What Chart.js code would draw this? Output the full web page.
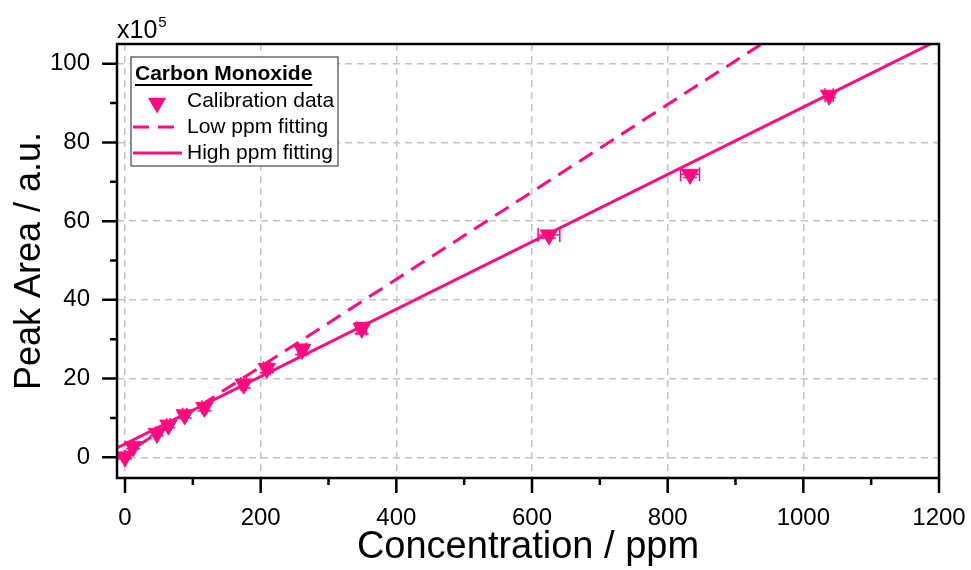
<!DOCTYPE html>
<html>
<head>
<meta charset="utf-8">
<script src="https://cdn.jsdelivr.net/npm/chart.js@4/dist/chart.umd.min.js"></script>
<style>
  html, body { margin: 0; padding: 0; background: #fff; }
  #wrap { width: 971px; height: 570px; position: relative; }
</style>
</head>
<body>
<div id="wrap"><canvas id="chart"></canvas></div>
<script>
// Calibration data (concentration in ppm, peak area in units of 1e5)
const conc = [0, 12, 47, 64, 88, 117, 175, 209, 261, 349, 625, 833, 1038];
const peakArea = [0.1, 2.7, 6.1, 8.2, 10.8, 12.7, 18.6, 22.6, 27.4, 32.8, 56.5, 71.9, 92.0];
const concErr = [1, 1.5, 2, 2.5, 3, 3.5, 4, 5, 6, 7, 16, 14, 6];
const areaErr = [0.4, 0.5, 0.6, 0.7, 0.8, 0.9, 1.0, 1.1, 1.3, 1.4, 0.8, 0.8, 0.6];

// Fit lines (end points)
const lowFitX = [-12, 960];
const lowFitY = [-0.5, 107.4];
const highFitX = [-12, 1200];
const highFitY = [2.4, 106.1];

// Axis ticks
const xTicks = [0, 200, 400, 600, 800, 1000, 1200];
const xMinorTicks = [100, 300, 500, 700, 900, 1100];
const yTicks = [0, 20, 40, 60, 80, 100];
const yMinorTicks = [10, 30, 50, 70, 90];

const PINK = '#ff0a80';
const FONT = "'Liberation Sans', Arial, sans-serif";

function toPoints(xs, ys) {
  return xs.map((x, i) => ({ x: x, y: ys[i] }));
}

function downTriangle(ctx, x, y, r) {
  ctx.beginPath();
  for (let k = 0; k < 3; k++) {
    const rad = Math.PI + k * 2 * Math.PI / 3;
    const px = x + Math.sin(rad) * r, py = y - Math.cos(rad) * r;
    if (k === 0) ctx.moveTo(px, py); else ctx.lineTo(px, py);
  }
  ctx.closePath();
  ctx.fill();
}

// Error bars, frame, ticks, legend and the x10^5 label
const decorPlugin = {
  id: 'decor',
  afterDatasetsDraw(chart) {
    const ctx = chart.ctx;
    const xs = chart.scales.x, ys = chart.scales.y;
    ctx.save();
    ctx.strokeStyle = PINK;
    ctx.lineWidth = 1.5;
    const cap = 7;
    conc.forEach((c, i) => {
      const px = xs.getPixelForValue(c), py = ys.getPixelForValue(peakArea[i]);
      const x0 = xs.getPixelForValue(c - concErr[i]), x1 = xs.getPixelForValue(c + concErr[i]);
      const y0 = ys.getPixelForValue(peakArea[i] - areaErr[i]), y1 = ys.getPixelForValue(peakArea[i] + areaErr[i]);
      ctx.beginPath();
      ctx.moveTo(x0, py); ctx.lineTo(x1, py);
      ctx.moveTo(x0, py - cap); ctx.lineTo(x0, py + cap);
      ctx.moveTo(x1, py - cap); ctx.lineTo(x1, py + cap);
      ctx.moveTo(px, y0); ctx.lineTo(px, y1);
      ctx.moveTo(px - cap, y0); ctx.lineTo(px + cap, y0);
      ctx.moveTo(px - cap, y1); ctx.lineTo(px + cap, y1);
      ctx.stroke();
    });
    ctx.restore();
  },
  afterDraw(chart) {
    const ctx = chart.ctx;
    const a = chart.chartArea;
    const xs = chart.scales.x, ys = chart.scales.y;
    ctx.save();

    // frame
    ctx.strokeStyle = '#000';
    ctx.lineWidth = 2.5;
    ctx.strokeRect(a.left, a.top, a.right - a.left, a.bottom - a.top);

    // outward ticks on bottom and left
    ctx.beginPath();
    xTicks.forEach(v => {
      const p = xs.getPixelForValue(v);
      ctx.moveTo(p, a.bottom); ctx.lineTo(p, a.bottom + 15);
    });
    xMinorTicks.forEach(v => {
      const p = xs.getPixelForValue(v);
      ctx.moveTo(p, a.bottom); ctx.lineTo(p, a.bottom + 7);
    });
    yTicks.forEach(v => {
      const p = ys.getPixelForValue(v);
      ctx.moveTo(a.left, p); ctx.lineTo(a.left - 15, p);
    });
    yMinorTicks.forEach(v => {
      const p = ys.getPixelForValue(v);
      ctx.moveTo(a.left, p); ctx.lineTo(a.left - 7, p);
    });
    ctx.stroke();

    // x10^5
    ctx.fillStyle = '#000';
    ctx.textBaseline = 'alphabetic';
    ctx.textAlign = 'left';
    ctx.font = '25px ' + FONT;
    ctx.fillText('x10', a.left, 38);
    const w = ctx.measureText('x10').width;
    ctx.font = '15px ' + FONT;
    ctx.fillText('5', a.left + w + 1, 27);

    // legend
    const lx = 131, ly = 57, lw = 207, lh = 109;
    ctx.fillStyle = '#fff';
    ctx.fillRect(lx, ly, lw, lh);
    ctx.strokeStyle = '#555';
    ctx.lineWidth = 1.3;
    ctx.strokeRect(lx, ly, lw, lh);

    ctx.fillStyle = '#000';
    ctx.font = 'bold 21px ' + FONT;
    const title = 'Carbon Monoxide';
    ctx.fillText(title, 135, 80);
    const tw = ctx.measureText(title).width;
    ctx.strokeStyle = '#000';
    ctx.lineWidth = 2;
    ctx.beginPath();
    ctx.moveTo(135, 85); ctx.lineTo(135 + tw, 85);
    ctx.stroke();

    const rows = [101, 127, 153];
    ctx.font = '21px ' + FONT;
    ctx.textBaseline = 'middle';
    chart.data.datasets.forEach((ds, i) => {
      const y = rows[i];
      if (ds.showLine) {
        ctx.strokeStyle = ds.borderColor;
        ctx.lineWidth = ds.borderWidth;
        ctx.setLineDash(ds.borderDash || []);
        ctx.beginPath();
        ctx.moveTo(133, y); ctx.lineTo(182, y);
        ctx.stroke();
        ctx.setLineDash([]);
      } else {
        ctx.fillStyle = ds.pointBackgroundColor;
        downTriangle(ctx, 157, y + 2, 10.5);
      }
      ctx.fillStyle = '#000';
      ctx.fillText(ds.label, 187, y);
    });

    ctx.restore();
  }
};

const ctx = document.getElementById('chart').getContext('2d');

new Chart(ctx, {
  type: 'scatter',
  data: {
    datasets: [{
      label: 'Calibration data',
      data: toPoints(conc, peakArea),
      showLine: false,
      pointStyle: 'triangle',
      rotation: 180,
      pointRadius: 10,
      pointBackgroundColor: PINK,
      pointBorderColor: PINK,
      pointBorderWidth: 1
    }, {
      label: 'Low ppm fitting',
      data: toPoints(lowFitX, lowFitY),
      showLine: true,
      borderColor: PINK,
      borderWidth: 3,
      borderDash: [16, 9],
      pointRadius: 0
    }, {
      label: 'High ppm fitting',
      data: toPoints(highFitX, highFitY),
      showLine: true,
      borderColor: PINK,
      borderWidth: 3,
      pointRadius: 0
    }]
  },
  options: {
    responsive: true,
    maintainAspectRatio: false,
    animation: false,
    layout: {
      padding: { top: 44, right: 32, left: 0, bottom: 0 }
    },
    plugins: {
      legend: { display: false },
      tooltip: { enabled: false }
    },
    scales: {
      x: {
        type: 'linear',
        min: -11.8,
        max: 1200,
        afterBuildTicks: function(scale) {
          scale.ticks = xTicks.map(v => ({ value: v }));
        },
        afterFit: function(scale) {
          scale.height = 92;
          scale.paddingLeft = 0;
          scale.paddingRight = 0;
        },
        grid: {
          color: '#c4c4c4',
          lineWidth: 1.5,
          drawTicks: false
        },
        border: { display: false, dash: [7, 5] },
        ticks: {
          color: '#000',
          padding: 26,
          maxRotation: 0,
          font: { family: FONT, size: 24 },
          callback: function(value) {
            return String(value);
          }
        },
        title: {
          display: true,
          text: 'Concentration / ppm',
          color: '#000',
          padding: { top: 0, bottom: 0 },
          font: { family: FONT, size: 38 }
        }
      },
      y: {
        type: 'linear',
        min: -5.25,
        max: 105,
        afterBuildTicks: function(scale) {
          scale.ticks = yTicks.map(v => ({ value: v }));
        },
        afterFit: function(scale) {
          scale.width = 117;
          scale.paddingTop = 0;
          scale.paddingBottom = 0;
        },
        grid: {
          color: '#c4c4c4',
          lineWidth: 1.5,
          drawTicks: false
        },
        border: { display: false, dash: [7, 5] },
        ticks: {
          color: '#000',
          padding: 27,
          font: { family: FONT, size: 24 },
          callback: function(value) {
            return String(value);
          }
        },
        title: {
          display: true,
          text: 'Peak Area / a.u.',
          color: '#000',
          padding: { top: 8, bottom: 0 },
          font: { family: FONT, size: 36 }
        }
      }
    }
  },
  plugins: [decorPlugin]
});
</script>
</body>
</html>
